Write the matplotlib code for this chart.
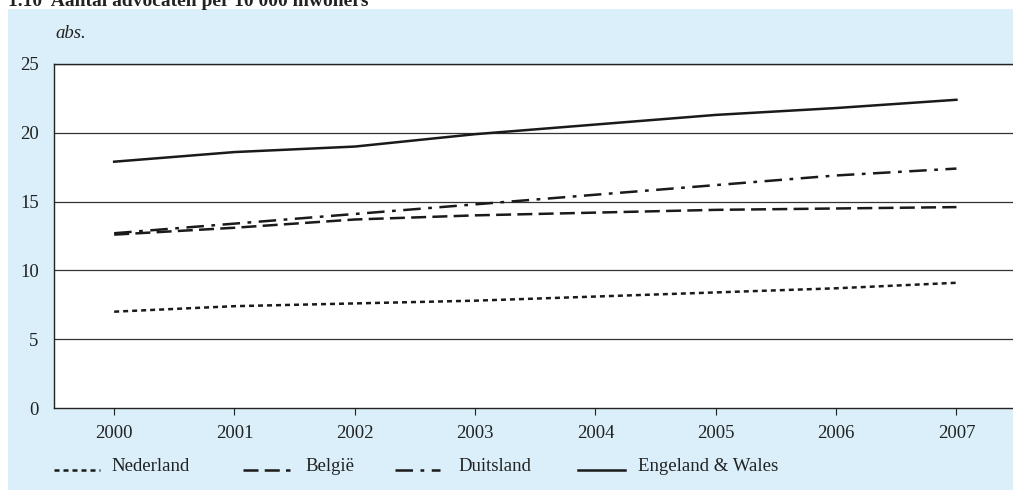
import matplotlib.pyplot as plt
from matplotlib.lines import Line2D
from matplotlib.patches import Rectangle

years = [2000, 2001, 2002, 2003, 2004, 2005, 2006, 2007]
nederland = [7.0, 7.4, 7.6, 7.8, 8.1, 8.4, 8.7, 9.1]
belgie = [12.6, 13.1, 13.7, 14.0, 14.2, 14.4, 14.5, 14.6]
duitsland = [12.7, 13.4, 14.1, 14.8, 15.5, 16.2, 16.9, 17.4]
engeland = [17.9, 18.6, 19.0, 19.9, 20.6, 21.3, 21.8, 22.4]
y_ticks = [0, 5, 10, 15, 20, 25]

series = [
    ("Nederland", nederland, (0, (2, 1.6))),
    ("België", belgie, (0, (6, 2.5))),
    ("Duitsland", duitsland, (0, (7, 3, 1.5, 3))),
    ("Engeland & Wales", engeland, "-"),
]

plt.rcParams["font.family"] = ["Liberation Serif", "DejaVu Serif"]
W, H = 1013, 490
FS = 13.5
fig = plt.figure(figsize=(W / 100, H / 100), dpi=100)
fig.patch.set_facecolor("white")
fig.add_artist(Rectangle((8 / W, 0), 1, 1 - 9 / H, transform=fig.transFigure,
                         facecolor="#daeff9", edgecolor="none", zorder=-10))
fig.text(8 / W, 1 - 2 / H, "1.10  Aantal advocaten per 10 000 inwoners",
         fontsize=14, fontweight="bold", color="#222222", va="center", ha="left")
fig.text(55 / W, 1 - 33 / H, "abs.", fontsize=FS, style="italic", color="#222222",
         va="center", ha="left")

ax = fig.add_axes([54 / W, 1 - 408 / H, (W - 54) / W, (408 - 64) / H])
ax.set_zorder(1)
ax.set_facecolor("white")
for name, vals, ls in series:
    ax.plot(years, vals, color="#1a1a1a", lw=1.8, linestyle=ls)

ax.set_xlim(1999.5, 2007.47)
ax.set_ylim(0, 25)
ax.set_yticks(y_ticks)
ax.set_xticks(years)
for y in y_ticks[1:]:
    ax.axhline(y, color="#333333", lw=0.9, zorder=0)
ax.spines["right"].set_visible(False)
for s in ["left", "bottom", "top"]:
    ax.spines[s].set_color("#222222")
    ax.spines[s].set_linewidth(1.0)
ax.tick_params(axis="y", length=0, pad=11, labelsize=FS, labelcolor="#222222")
ax.tick_params(axis="x", length=5, width=0.8, pad=7, labelsize=FS,
               labelcolor="#222222", color="#222222")

# legend drawn along the bottom
leg_x = [(54, 100, 111), (243, 290, 305), (395, 440, 458), (578, 625, 638)]
ly = 1 - 470 / H
for (x0, x1, xt), (name, vals, ls) in zip(leg_x, series):
    fig.add_artist(Line2D([x0 / W, x1 / W], [ly, ly], transform=fig.transFigure,
                          color="#1a1a1a", lw=1.8, linestyle=ls))
    fig.text(xt / W, ly + 4 / H, name, fontsize=FS, color="#222222",
             va="center", ha="left")

fig.savefig("out.png", dpi=100)
